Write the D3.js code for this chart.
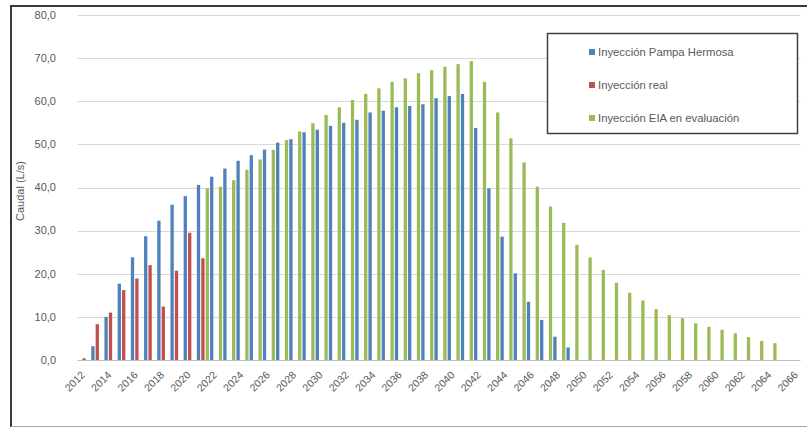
<!DOCTYPE html>
<html>
<head>
<meta charset="utf-8">
<script src="https://cdn.jsdelivr.net/npm/d3@7"></script>
<style>
    html, body { margin: 0; padding: 0; background: #fff; }
    #chart { width: 807px; height: 428px; }
    text { font-family: "Liberation Sans", Arial, sans-serif; fill: #595959; }
</style>
</head>
<body>
<div id="chart"></div>
<script>
const years = [2012, 2013, 2014, 2015, 2016, 2017, 2018, 2019, 2020, 2021,
    2022, 2023, 2024, 2025, 2026, 2027, 2028, 2029, 2030, 2031,
    2032, 2033, 2034, 2035, 2036, 2037, 2038, 2039, 2040, 2041,
    2042, 2043, 2044, 2045, 2046, 2047, 2048, 2049, 2050, 2051,
    2052, 2053, 2054, 2055, 2056, 2057, 2058, 2059, 2060, 2061,
    2062, 2063, 2064, 2065, 2066];

const seriesNames = ["Inyección Pampa Hermosa", "Inyección real", "Inyección EIA en evaluación"];
const seriesColors = ["#4f81bd", "#c0504d", "#9bbb59"];

// Inyección Pampa Hermosa, 2012-2049
const pampaStart = 2012;
const pampa = [0, 3.2, 10.0, 17.7, 23.8, 28.7, 32.3, 36.0, 38.0, 40.6,
    42.5, 44.4, 46.2, 47.5, 48.8, 50.4, 51.2, 52.8, 53.4, 54.3,
    55.0, 55.7, 57.4, 57.8, 58.6, 58.9, 59.3, 60.7, 61.2, 61.7,
    53.8, 39.8, 28.6, 20.1, 13.5, 9.3, 5.4, 2.9];

// Inyección real, 2012-2021
const realStart = 2012;
const real = [0.4, 8.3, 11.0, 16.2, 18.9, 22.0, 12.4, 20.7, 29.5, 23.6];

// Inyección EIA en evaluación, 2021-2064
const eiaStart = 2021;
const eia = [39.8, 40.2, 41.7, 44.1, 46.5, 48.7, 51.0, 53.0, 54.9, 56.8,
    58.6, 60.3, 61.7, 63.0, 64.5, 65.3, 66.5, 67.2, 68.0, 68.6,
    69.3, 64.5, 57.4, 51.4, 45.8, 40.2, 35.6, 31.8, 26.7, 23.8,
    20.9, 17.9, 15.6, 13.8, 11.8, 10.4, 9.7, 8.5, 7.7, 7.0,
    6.2, 5.3, 4.4, 3.9];

const yTicks = [0, 10, 20, 30, 40, 50, 60, 70, 80];
const xLabels = years.filter((y, i) => i % 2 === 0);

const width = 807, height = 428;
const plot = { left: 77.5, right: 803.5, top: 15, bottom: 360 };

const svg = d3.select("#chart")
    .append("svg")
    .attr("width", width)
    .attr("height", height);

// marco exterior
svg.append("line").attr("x1", 11).attr("x2", width).attr("y1", 6).attr("y2", 6)
    .attr("stroke", "#3a3a3a").attr("stroke-width", 2);
svg.append("line").attr("x1", 11).attr("x2", 11).attr("y1", 5).attr("y2", 427)
    .attr("stroke", "#3a3a3a").attr("stroke-width", 2);
svg.append("line").attr("x1", 11).attr("x2", width).attr("y1", 426.5).attr("y2", 426.5)
    .attr("stroke", "#a6a6a6").attr("stroke-width", 1);

const x0 = d3.scaleBand()
    .domain(years)
    .range([plot.left, plot.right])
    .padding(0);

const x1 = d3.scaleBand()
    .domain(d3.range(seriesNames.length))
    .range([0, x0.bandwidth()])
    .paddingInner(0.25)
    .paddingOuter(0.125);

const y = d3.scaleLinear()
    .domain([0, 80])
    .range([plot.bottom, plot.top]);

// rejilla
svg.append("g")
    .selectAll("line")
    .data(yTicks.filter(t => t > 0))
    .enter()
    .append("line")
    .attr("x1", plot.left)
    .attr("x2", plot.right - 3)
    .attr("y1", d => Math.round(y(d)) + 0.5)
    .attr("y2", d => Math.round(y(d)) + 0.5)
    .attr("stroke", "#d9d9d9")
    .attr("stroke-width", 1);

const fmt = d => d3.format(".1f")(d).replace(".", ",");

svg.append("g")
    .selectAll("text")
    .data(yTicks)
    .enter()
    .append("text")
    .attr("x", 56)
    .attr("y", d => y(d))
    .attr("dy", "0.35em")
    .attr("text-anchor", "end")
    .style("font-size", "11px")
    .text(fmt);

svg.append("text")
    .attr("transform", "translate(24,191) rotate(-90)")
    .attr("text-anchor", "middle")
    .style("font-size", "11px")
    .text("Caudal (L/s)");

// barras
const series = [
    { start: pampaStart, values: pampa },
    { start: realStart, values: real },
    { start: eiaStart, values: eia }
];

series.forEach((s, si) => {
    const rows = s.values.map((v, i) => ({ year: s.start + i, value: v }));
    svg.append("g")
        .selectAll("rect")
        .data(rows.filter(d => d.value > 0))
        .enter()
        .append("rect")
        .attr("x", d => x0(d.year) + x1(si))
        .attr("width", x1.bandwidth())
        .attr("y", d => y(d.value))
        .attr("height", d => y(0) - y(d.value))
        .attr("fill", seriesColors[si]);
});

// eje x
svg.append("line")
    .attr("x1", plot.left)
    .attr("x2", plot.right - 3)
    .attr("y1", Math.round(y(0)) + 0.5)
    .attr("y2", Math.round(y(0)) + 0.5)
    .attr("stroke", "#bfbfbf");

svg.append("g")
    .selectAll("text")
    .data(xLabels)
    .enter()
    .append("text")
    .attr("transform", d => `translate(${x0(d) + x0.bandwidth() / 2 - 1},${plot.bottom + 13}) rotate(-45)`)
    .attr("text-anchor", "end")
    .attr("dy", "0.35em")
    .style("font-size", "10.5px")
    .text(d => d);

// leyenda
const legend = svg.append("g");
legend.append("rect")
    .attr("x", 547.5).attr("y", 33.5)
    .attr("width", 250).attr("height", 100)
    .attr("fill", "#fff")
    .attr("stroke", "#404040")
    .attr("stroke-width", 1.5);

const item = legend.selectAll("g.item")
    .data(seriesNames)
    .enter()
    .append("g")
    .attr("class", "item")
    .attr("transform", (d, i) => `translate(589,${52 + i * 33})`);

item.append("rect")
    .attr("x", 0).attr("y", -3)
    .attr("width", 6).attr("height", 6)
    .attr("fill", (d, i) => seriesColors[i]);

item.append("text")
    .attr("x", 9)
    .attr("dy", "0.35em")
    .style("font-size", "11.3px")
    .text(d => d);
</script>
</body>
</html>
